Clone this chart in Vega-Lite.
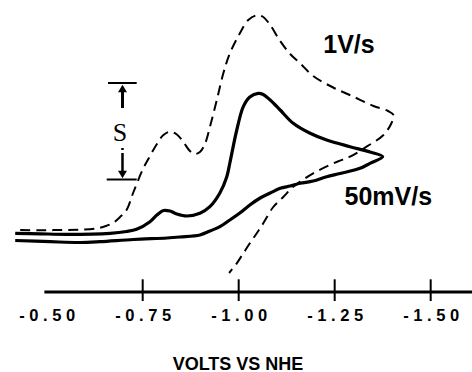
{
  "$schema": "https://vega.github.io/schema/vega-lite/v6.json",
  "width": 472,
  "height": 292,
  "autosize": {"type": "none"},
  "padding": {"left": 0, "right": 0, "top": 0, "bottom": 80},
  "background": "white",
  "config": {"view": {"stroke": null}},
  "datasets": {
    "axisline": [{"x": -0.494, "x2": -1.61, "y": 0}],
    "ticks": [
      {"x": -0.75, "y": 1.27, "y2": -0.9},
      {"x": -1.0, "y": 1.27, "y2": -0.9},
      {"x": -1.25, "y": 1.27, "y2": -0.9},
      {"x": -1.5, "y": 1.27, "y2": -0.9}
    ],
    "solid": [
      {"i": 1, "x": -0.418, "y": 5.87}, {"i": 2, "x": -0.483, "y": 5.82}, {"i": 3, "x": -0.552, "y": 5.77},
      {"i": 4, "x": -0.665, "y": 5.87}, {"i": 5, "x": -0.708, "y": 6.05}, {"i": 6, "x": -0.734, "y": 6.27},
      {"i": 7, "x": -0.769, "y": 7.03}, {"i": 8, "x": -0.787, "y": 7.7}, {"i": 9, "x": -0.804, "y": 8.15},
      {"i": 10, "x": -0.821, "y": 8.1}, {"i": 11, "x": -0.839, "y": 7.8}, {"i": 12, "x": -0.865, "y": 7.6},
      {"i": 13, "x": -0.899, "y": 7.87}, {"i": 14, "x": -0.925, "y": 8.53}, {"i": 15, "x": -0.951, "y": 9.9},
      {"i": 16, "x": -0.969, "y": 11.53}, {"i": 17, "x": -0.977, "y": 12.9}, {"i": 18, "x": -0.995, "y": 16.2},
      {"i": 19, "x": -1.012, "y": 18.53}, {"i": 20, "x": -1.029, "y": 19.5}, {"i": 21, "x": -1.051, "y": 19.87},
      {"i": 22, "x": -1.064, "y": 19.75}, {"i": 23, "x": -1.082, "y": 19.2}, {"i": 24, "x": -1.108, "y": 18.2},
      {"i": 25, "x": -1.142, "y": 16.87}, {"i": 26, "x": -1.186, "y": 15.87}, {"i": 27, "x": -1.229, "y": 15.2},
      {"i": 28, "x": -1.29, "y": 14.53}, {"i": 29, "x": -1.342, "y": 14.0}, {"i": 30, "x": -1.375, "y": 13.53},
      {"i": 31, "x": -1.342, "y": 12.87}, {"i": 32, "x": -1.316, "y": 12.37}, {"i": 33, "x": -1.264, "y": 11.85},
      {"i": 34, "x": -1.229, "y": 11.53}, {"i": 35, "x": -1.194, "y": 11.1}, {"i": 36, "x": -1.16, "y": 10.87},
      {"i": 37, "x": -1.134, "y": 10.6}, {"i": 38, "x": -1.108, "y": 10.37}, {"i": 39, "x": -1.082, "y": 9.9},
      {"i": 40, "x": -1.056, "y": 9.4}, {"i": 41, "x": -1.029, "y": 8.7}, {"i": 42, "x": -1.003, "y": 7.9},
      {"i": 43, "x": -0.977, "y": 7.2}, {"i": 44, "x": -0.951, "y": 6.53}, {"i": 45, "x": -0.925, "y": 6.1},
      {"i": 46, "x": -0.899, "y": 5.7}, {"i": 47, "x": -0.847, "y": 5.5}, {"i": 48, "x": -0.813, "y": 5.4},
      {"i": 49, "x": -0.726, "y": 5.25}, {"i": 50, "x": -0.639, "y": 5.03}, {"i": 51, "x": -0.587, "y": 4.95},
      {"i": 52, "x": -0.509, "y": 5.03}, {"i": 53, "x": -0.418, "y": 5.15}
    ],
    "dashed": [
      {"i": 1, "x": -0.431, "y": 6.2}, {"i": 2, "x": -0.483, "y": 6.17}, {"i": 3, "x": -0.535, "y": 6.2},
      {"i": 4, "x": -0.587, "y": 6.23}, {"i": 5, "x": -0.631, "y": 6.37}, {"i": 6, "x": -0.654, "y": 6.6},
      {"i": 7, "x": -0.674, "y": 6.93}, {"i": 8, "x": -0.691, "y": 7.5}, {"i": 9, "x": -0.708, "y": 8.2},
      {"i": 10, "x": -0.726, "y": 10.0}, {"i": 11, "x": -0.752, "y": 12.4}, {"i": 12, "x": -0.769, "y": 13.6},
      {"i": 13, "x": -0.787, "y": 14.8}, {"i": 14, "x": -0.804, "y": 15.7}, {"i": 15, "x": -0.821, "y": 16.03},
      {"i": 16, "x": -0.839, "y": 15.75}, {"i": 17, "x": -0.856, "y": 15.0}, {"i": 18, "x": -0.873, "y": 14.1},
      {"i": 19, "x": -0.886, "y": 13.8}, {"i": 20, "x": -0.899, "y": 14.0}, {"i": 21, "x": -0.912, "y": 14.8},
      {"i": 22, "x": -0.925, "y": 16.5}, {"i": 23, "x": -0.943, "y": 19.2}, {"i": 24, "x": -0.96, "y": 21.87},
      {"i": 25, "x": -0.977, "y": 23.87}, {"i": 26, "x": -1.003, "y": 25.87}, {"i": 27, "x": -1.025, "y": 27.2},
      {"i": 28, "x": -1.047, "y": 27.67}, {"i": 29, "x": -1.064, "y": 27.5}, {"i": 30, "x": -1.082, "y": 26.7},
      {"i": 31, "x": -1.108, "y": 25.1}, {"i": 32, "x": -1.134, "y": 23.8}, {"i": 33, "x": -1.16, "y": 22.87},
      {"i": 34, "x": -1.194, "y": 21.6}, {"i": 35, "x": -1.246, "y": 20.45}, {"i": 36, "x": -1.299, "y": 19.53},
      {"i": 37, "x": -1.351, "y": 18.6}, {"i": 38, "x": -1.389, "y": 18.1}, {"i": 39, "x": -1.403, "y": 17.7},
      {"i": 40, "x": -1.398, "y": 16.9}, {"i": 41, "x": -1.377, "y": 15.7}, {"i": 42, "x": -1.333, "y": 14.53},
      {"i": 43, "x": -1.29, "y": 13.53}, {"i": 44, "x": -1.255, "y": 13.0}, {"i": 45, "x": -1.194, "y": 11.87},
      {"i": 46, "x": -1.16, "y": 11.03}, {"i": 47, "x": -1.142, "y": 10.53}, {"i": 48, "x": -1.116, "y": 9.5},
      {"i": 49, "x": -1.09, "y": 8.5}, {"i": 50, "x": -1.064, "y": 6.87}, {"i": 51, "x": -1.047, "y": 5.87},
      {"i": 52, "x": -1.029, "y": 4.87}, {"i": 53, "x": -1.012, "y": 3.87}, {"i": 54, "x": -0.995, "y": 2.87},
      {"i": 55, "x": -0.975, "y": 1.9}
    ],
    "bars": [
      {"x": -0.6597, "x2": -0.7344, "y": 20.9},
      {"x": -0.6563, "x2": -0.7344, "y": 11.25}
    ],
    "shafts": [{"x": -0.6974, "y": 20.0, "y2": 18.4}],
    "shaftsdot": [{"x": -0.6974, "y": 14.4, "y2": 12.1}],
    "heads": [
      {"x": -0.6974, "y": 20.35, "dir": "up"},
      {"x": -0.6974, "y": 11.75, "dir": "down"}
    ],
    "sletter": [{"x": -0.6909, "y": 15.87, "label": "S"}],
    "rates": [
      {"x": -1.2873, "y": 24.7, "label": "1V/s"},
      {"x": -1.3896, "y": 9.47, "label": "50mV/s"}
    ]
  },
  "encoding": {
    "x": {
      "field": "x",
      "type": "quantitative",
      "scale": {"domain": [-1.6076, -0.3784], "reverse": true, "nice": false, "zero": false},
      "axis": {
        "values": [-0.5, -0.75, -1.0, -1.25, -1.5],
        "domain": false,
        "ticks": false,
        "tickSize": 0,
        "grid": false,
        "labelExpr": "join(split(replace(format(datum.value, '.2f'), '\u2212', '-'), ''), ' ')",
        "labelFont": "Liberation Sans",
        "labelFontWeight": "bold",
        "labelFontSize": 16.5,
        "labelColor": "black",
        "labelPadding": 15,
        "labelDx": 2,
        "labelFlush": false,
        "labelOverlap": false,
        "title": "VOLTS VS NHE",
        "titleFont": "Liberation Sans",
        "titleFontWeight": "bold",
        "titleFontSize": 18,
        "titleColor": "black",
        "titleBaseline": "alphabetic",
        "titleY": 77,
        "titleX": 237.5
      }
    },
    "y": {
      "field": "y",
      "type": "quantitative",
      "scale": {"domain": [0, 29.2], "nice": false, "zero": false},
      "axis": null
    }
  },
  "layer": [
    {
      "data": {"name": "axisline"},
      "mark": {"type": "rule", "color": "black", "strokeWidth": 3},
      "encoding": {"x2": {"field": "x2"}}
    },
    {
      "data": {"name": "ticks"},
      "mark": {"type": "rule", "color": "black", "strokeWidth": 2},
      "encoding": {"y2": {"field": "y2"}}
    },
    {
      "data": {"name": "solid"},
      "mark": {"type": "line", "color": "black", "strokeWidth": 3.2, "interpolate": "catmull-rom"},
      "encoding": {"order": {"field": "i", "type": "quantitative"}}
    },
    {
      "data": {"name": "dashed"},
      "mark": {"type": "line", "color": "black", "strokeWidth": 2, "strokeDash": [10, 6], "interpolate": "catmull-rom"},
      "encoding": {"order": {"field": "i", "type": "quantitative"}}
    },
    {
      "data": {"name": "bars"},
      "mark": {"type": "rule", "color": "black", "strokeWidth": 2},
      "encoding": {"x2": {"field": "x2"}}
    },
    {
      "data": {"name": "shafts"},
      "mark": {"type": "rule", "color": "black", "strokeWidth": 3},
      "encoding": {"y2": {"field": "y2"}}
    },
    {
      "data": {"name": "shaftsdot"},
      "mark": {"type": "rule", "color": "black", "strokeWidth": 2.5, "strokeDash": [2, 3, 60, 0]},
      "encoding": {"y2": {"field": "y2"}}
    },
    {
      "data": {"name": "heads"},
      "mark": {"type": "point", "filled": true, "color": "black", "opacity": 1, "size": 80},
      "encoding": {
        "shape": {
          "field": "dir",
          "type": "nominal",
          "scale": {"domain": ["up", "down"], "range": ["triangle-up", "triangle-down"]},
          "legend": null
        }
      }
    },
    {
      "data": {"name": "sletter"},
      "mark": {"type": "text", "font": "Liberation Serif", "fontSize": 26, "color": "black", "baseline": "middle", "align": "center"},
      "encoding": {"text": {"field": "label"}}
    },
    {
      "data": {"name": "rates"},
      "mark": {"type": "text", "font": "Liberation Sans", "fontWeight": "bold", "fontSize": 25, "color": "black", "baseline": "middle", "align": "center"},
      "encoding": {"text": {"field": "label"}}
    }
  ]
}
